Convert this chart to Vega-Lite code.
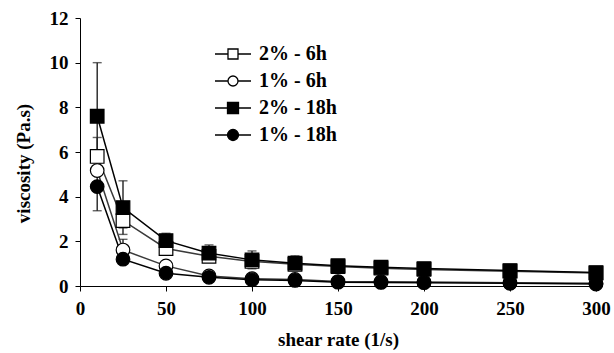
{
  "$schema": "https://vega.github.io/schema/vega-lite/v6.json",
  "autosize": "none",
  "width": 516,
  "height": 268,
  "padding": {"left": 80, "top": 18, "right": 18, "bottom": 67},
  "background": "white",
  "config": {
    "view": {"stroke": null},
    "axis": {
      "grid": false,
      "domainColor": "black",
      "tickColor": "black",
      "domainWidth": 1,
      "tickWidth": 1,
      "tickSize": 5,
      "labelFlush": false,
      "labelOverlap": false,
      "labelFont": "Liberation Serif",
      "labelFontWeight": "bold",
      "labelFontSize": 19,
      "labelColor": "black",
      "titleFont": "Liberation Serif",
      "titleFontWeight": "bold",
      "titleFontSize": 19,
      "titleColor": "black"
    },
    "legend": {
      "title": null, "orient": "none", "legendX": 142, "legendY": 25, "padding": 0,
      "symbolSize": 400, "symbolOpacity": 1,
      "labelOffset": 15, "rowPadding": 6,
      "labelFont": "Liberation Serif", "labelFontWeight": "bold", "labelFontSize": 20, "labelColor": "black"
    }
  },
  "data": {
    "values": [
      {"series": "2% - 6h", "rate": 10, "viscosity": 5.8, "lo": 4.95, "hi": 6.65},
      {"series": "2% - 6h", "rate": 25, "viscosity": 2.93, "lo": 2.6, "hi": 3.26},
      {"series": "2% - 6h", "rate": 50, "viscosity": 1.68},
      {"series": "2% - 6h", "rate": 75, "viscosity": 1.33},
      {"series": "2% - 6h", "rate": 100, "viscosity": 1.1},
      {"series": "2% - 6h", "rate": 125, "viscosity": 0.97},
      {"series": "2% - 6h", "rate": 150, "viscosity": 0.87},
      {"series": "2% - 6h", "rate": 175, "viscosity": 0.8},
      {"series": "2% - 6h", "rate": 200, "viscosity": 0.74},
      {"series": "2% - 6h", "rate": 250, "viscosity": 0.66},
      {"series": "2% - 6h", "rate": 300, "viscosity": 0.58},
      {"series": "1% - 6h", "rate": 10, "viscosity": 5.17},
      {"series": "1% - 6h", "rate": 25, "viscosity": 1.61, "lo": 1.13, "hi": 2.09},
      {"series": "1% - 6h", "rate": 50, "viscosity": 0.9, "lo": 0.72, "hi": 1.08},
      {"series": "1% - 6h", "rate": 75, "viscosity": 0.45},
      {"series": "1% - 6h", "rate": 100, "viscosity": 0.33},
      {"series": "1% - 6h", "rate": 125, "viscosity": 0.29},
      {"series": "1% - 6h", "rate": 150, "viscosity": 0.2},
      {"series": "1% - 6h", "rate": 175, "viscosity": 0.19},
      {"series": "1% - 6h", "rate": 200, "viscosity": 0.18},
      {"series": "1% - 6h", "rate": 250, "viscosity": 0.15},
      {"series": "1% - 6h", "rate": 300, "viscosity": 0.12},
      {"series": "2% - 18h", "rate": 10, "viscosity": 7.6, "lo": 5.2, "hi": 10.0},
      {"series": "2% - 18h", "rate": 25, "viscosity": 3.51, "lo": 2.31, "hi": 4.71},
      {"series": "2% - 18h", "rate": 50, "viscosity": 2.03, "lo": 1.7, "hi": 2.36},
      {"series": "2% - 18h", "rate": 75, "viscosity": 1.47, "lo": 1.1, "hi": 1.84},
      {"series": "2% - 18h", "rate": 100, "viscosity": 1.17, "lo": 0.77, "hi": 1.57},
      {"series": "2% - 18h", "rate": 125, "viscosity": 1.02, "lo": 0.7, "hi": 1.35},
      {"series": "2% - 18h", "rate": 150, "viscosity": 0.91},
      {"series": "2% - 18h", "rate": 175, "viscosity": 0.84},
      {"series": "2% - 18h", "rate": 200, "viscosity": 0.78},
      {"series": "2% - 18h", "rate": 250, "viscosity": 0.69},
      {"series": "2% - 18h", "rate": 300, "viscosity": 0.6},
      {"series": "1% - 18h", "rate": 10, "viscosity": 4.45, "lo": 3.37, "hi": 5.53},
      {"series": "1% - 18h", "rate": 25, "viscosity": 1.2},
      {"series": "1% - 18h", "rate": 50, "viscosity": 0.57},
      {"series": "1% - 18h", "rate": 75, "viscosity": 0.39},
      {"series": "1% - 18h", "rate": 100, "viscosity": 0.28},
      {"series": "1% - 18h", "rate": 125, "viscosity": 0.25},
      {"series": "1% - 18h", "rate": 150, "viscosity": 0.17},
      {"series": "1% - 18h", "rate": 175, "viscosity": 0.16},
      {"series": "1% - 18h", "rate": 200, "viscosity": 0.15},
      {"series": "1% - 18h", "rate": 250, "viscosity": 0.12},
      {"series": "1% - 18h", "rate": 300, "viscosity": 0.09}
    ]
  },
  "encoding": {
    "x": {
      "field": "rate", "type": "quantitative",
      "scale": {"domain": [0, 300], "nice": false, "zero": false},
      "axis": {"values": [0, 50, 100, 150, 200, 250, 300], "title": "shear rate (1/s)", "labelPadding": 8, "titlePadding": 12}
    },
    "y": {
      "field": "viscosity", "type": "quantitative",
      "scale": {"domain": [0, 12], "nice": false},
      "axis": {"values": [0, 2, 4, 6, 8, 10, 12], "title": "viscosity (Pa.s)", "labelPadding": 7, "titlePadding": 16, "titleY": 145}
    }
  },
  "layer": [
    {
      "transform": [{"filter": "isValid(datum.lo)"}],
      "mark": {"type": "errorbar", "ticks": {"size": 9}, "color": "#222", "thickness": 1.4},
      "encoding": {
        "y": {"field": "lo", "type": "quantitative"},
        "y2": {"field": "hi"}
      }
    },
    {
      "mark": {"type": "line"},
      "encoding": {
        "detail": {"field": "series"},
        "stroke": {
          "field": "series", "type": "nominal", "legend": null,
          "scale": {"domain": ["2% - 6h", "1% - 6h", "2% - 18h", "1% - 18h"], "range": ["#3a3a3a", "#3a3a3a", "#000000", "#000000"]}
        },
        "strokeWidth": {
          "field": "series", "type": "nominal", "legend": null,
          "scale": {"domain": ["2% - 6h", "1% - 6h", "2% - 18h", "1% - 18h"], "range": [1.5, 1.5, 2.6, 2.6]}
        }
      }
    },
    {
      "mark": {"type": "point", "filled": true, "size": 185, "stroke": "black", "strokeWidth": 1.2, "opacity": 1},
      "encoding": {
        "shape": {
          "field": "series", "type": "nominal", "legend": null,
          "scale": {"domain": ["2% - 6h", "1% - 6h", "2% - 18h", "1% - 18h"], "range": ["square", "circle", "square", "circle"]}
        },
        "fill": {
          "field": "series", "type": "nominal", "legend": null,
          "scale": {"domain": ["2% - 6h", "1% - 6h", "2% - 18h", "1% - 18h"], "range": ["white", "white", "black", "black"]}
        }
      }
    },
    {
      "mark": {"type": "point", "opacity": 0, "filled": true},
      "encoding": {
        "shape": {
          "field": "series", "type": "nominal",
          "scale": {
            "domain": ["2% - 6h", "1% - 6h", "2% - 18h", "1% - 18h"],
            "range": [
              "M-1.8,0H-0.5M0.5,0H1.8M-0.5,-0.5H0.5V0.5H-0.5Z",
              "M-1.8,0H-0.5M0.5,0H1.8M0.5,0A0.5,0.5 0 1 1 -0.5,0A0.5,0.5 0 1 1 0.5,0Z",
              "M-1.8,0H-0.55M0.55,0H1.8M-0.55,-0.55H0.55V0.55H-0.55Z",
              "M-1.8,0H-0.55M0.55,0H1.8M0.55,0A0.55,0.55 0 1 1 -0.55,0A0.55,0.55 0 1 1 0.55,0Z"
            ]
          }
        },
        "fill": {
          "field": "series", "type": "nominal",
          "scale": {"domain": ["2% - 6h", "1% - 6h", "2% - 18h", "1% - 18h"], "range": ["white", "white", "black", "black"]}
        },
        "stroke": {
          "field": "series", "type": "nominal",
          "scale": {"domain": ["2% - 6h", "1% - 6h", "2% - 18h", "1% - 18h"], "range": ["black", "black", "black", "black"]}
        },
        "strokeWidth": {
          "field": "series", "type": "nominal",
          "scale": {"domain": ["2% - 6h", "1% - 6h", "2% - 18h", "1% - 18h"], "range": [1.3, 1.3, 2.6, 2.6]}
        }
      }
    }
  ],
  "resolve": {"scale": {"shape": "independent", "fill": "independent", "strokeWidth": "independent", "stroke": "independent"}}
}
